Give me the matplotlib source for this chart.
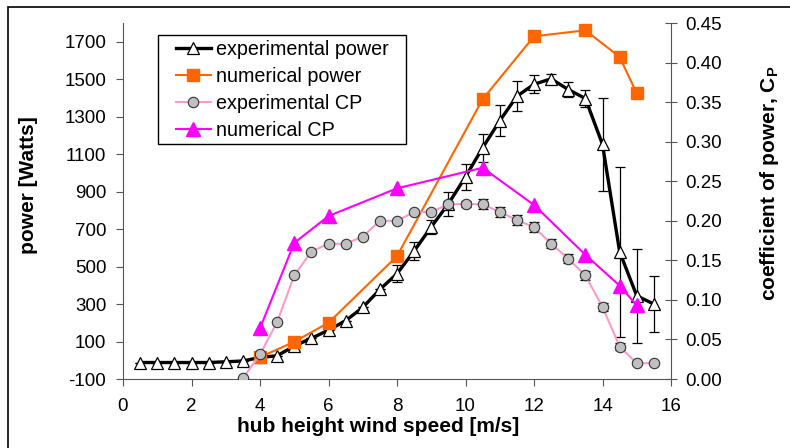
import numpy as np
import matplotlib
matplotlib.use("Agg")
import matplotlib.pyplot as plt
from matplotlib.patches import Rectangle

plt.rcParams['font.family'] = ['Liberation Sans', 'DejaVu Sans']
plt.rcParams['mathtext.fontset'] = 'custom'
plt.rcParams['mathtext.bf'] = 'Liberation Sans:bold'
plt.rcParams['mathtext.rm'] = 'Liberation Sans'
plt.rcParams['mathtext.default'] = 'bf'
plt.rcParams['axes.unicode_minus'] = False

# experimental power (W) with error bars
exp_ws = [0.5, 1, 1.5, 2, 2.5, 3, 3.5, 4, 4.5, 5, 5.5, 6, 6.5, 7, 7.5, 8,
          8.5, 9, 9.5, 10, 10.5, 11, 11.5, 12, 12.5, 13, 13.5, 14, 14.5, 15, 15.5]
exp_power = [-12, -12, -12, -12, -12, -8, -4, 15, 24, 76, 117, 161, 211, 282, 378, 462,
             583, 712, 835, 979, 1134, 1278, 1409, 1473, 1502, 1445, 1397, 1152, 579, 344, 300]
exp_power_err = [0, 0, 0, 0, 0, 0, 0, 0, 0, 0, 0, 0, 0, 0, 0, 45,
                 50, 36, 64, 70, 75, 82, 80, 47, 28, 40, 45, 250, 453, 250, 148]

# numerical power (W)
num_ws = [4, 5, 6, 8, 10.5, 12, 13.5, 14.5, 15]
num_power = [16, 99, 200, 556, 1393, 1729, 1761, 1619, 1424]

# experimental CP
cp_ws = [3.5, 4, 4.5, 5, 5.5, 6, 6.5, 7, 7.5, 8, 8.5, 9, 9.5, 10, 10.5, 11,
         11.5, 12, 12.5, 13, 13.5, 14, 14.5, 15, 15.5]
exp_cp = [0.001, 0.031, 0.072, 0.131, 0.161, 0.171, 0.171, 0.180, 0.200, 0.200, 0.211, 0.211,
          0.221, 0.221, 0.221, 0.211, 0.201, 0.192, 0.171, 0.152, 0.131, 0.091, 0.041, 0.020, 0.020]
exp_cp_err = [0, 0, 0, 0, 0, 0, 0, 0, 0, 0, 0, 0,
              0.004, 0.004, 0.006, 0.006, 0.006, 0.006, 0.006, 0.006, 0.006, 0.005, 0.004, 0, 0]

# numerical CP
num_cp = [0.064, 0.172, 0.206, 0.241, 0.267, 0.220, 0.157, 0.118, 0.093]

fig = plt.figure(figsize=(7.9, 4.48), dpi=100)
ax = fig.add_axes([123/790, 1 - 379/448, 548/790, 356/448])
ax2 = ax.twinx()

# power on the left axis
ax.errorbar(exp_ws, exp_power, yerr=exp_power_err, fmt='none', ecolor='black',
            elinewidth=0.9, capsize=3.5, capthick=0.9, zorder=2)
ax.plot(exp_ws, exp_power, color='black', lw=2.4, marker='^', ms=8,
        mfc='white', mec='black', mew=0.9, label='experimental power', zorder=3)
ax.plot(num_ws, num_power, color='#FF6600', lw=1.5, marker='s', ms=9,
        mfc='#FF6600', mec='#FF6600', label='numerical power', zorder=4)

# CP on the right axis
ax2.errorbar(cp_ws, exp_cp, yerr=exp_cp_err, fmt='none', ecolor='black',
             elinewidth=0.9, capsize=3.5, capthick=0.9, zorder=2)
ax2.plot(cp_ws, exp_cp, color='#FF99CC', lw=1.5, marker='o', ms=7.5,
         mfc='#C0C0C0', mec='#333333', mew=0.8, label='experimental CP', zorder=3)
ax2.plot(num_ws, num_cp, color='#FF00FF', lw=1.5, marker='^', ms=10,
         mfc='#FF00FF', mec='#FF00FF', label='numerical CP', zorder=4)

ax.set_xlim(0, 16)
ax.set_xticks(np.arange(0, 17, 2))
ax.set_ylim(-100, 1800)
ax.set_yticks(np.arange(-100, 1701, 200))
ax2.set_ylim(0, 0.45)
ax2.set_yticks(np.arange(0, 0.451, 0.05))
ax2.set_yticklabels(['%.2f' % v for v in np.arange(0, 0.451, 0.05)])

for a in (ax, ax2):
    a.spines['top'].set_visible(False)
ax.spines['right'].set_visible(False)
ax2.spines['left'].set_visible(False)
ax2.spines['bottom'].set_visible(False)
ax.spines['left'].set_color('#555555')
ax.spines['bottom'].set_color('#555555')
ax2.spines['right'].set_color('#555555')

ax.tick_params(axis='both', direction='out', length=5, color='#555555', labelsize=13.5)
ax.tick_params(axis='y', pad=7)
ax.tick_params(axis='x', pad=9)
ax2.tick_params(axis='y', direction='inout', length=8, color='#555555', labelsize=13.5, pad=6)

ax.set_xlabel('hub height wind speed [m/s]', fontsize=15, fontweight='bold')
ax.set_ylabel('power [Watts]', fontsize=15, fontweight='bold')
ax2.set_ylabel('coefficient of power, C$_P$', fontsize=15, fontweight='bold')
ax.xaxis.set_label_coords(0.466, -0.108)
ax.yaxis.set_label_coords(-0.155, 0.545)
ax2.yaxis.set_label_coords(1.159, 0.55)

# legend box drawn separately so the inner padding can differ left/top
ax2.add_patch(Rectangle((0.0639, 0.660), 0.4525, 0.306, transform=ax2.transAxes,
                        facecolor='white', edgecolor='black', lw=1.0, zorder=5))
h1, l1 = ax.get_legend_handles_labels()
h2, l2 = ax2.get_legend_handles_labels()
leg = ax2.legend(h1 + h2, l1 + l2, loc='upper left', bbox_to_anchor=(0.0967, 0.952),
                 borderaxespad=0, frameon=False, fontsize=14.2,
                 handlelength=1.75, handletextpad=0.3, labelspacing=0.4,
                 borderpad=0)
leg.set_zorder(6)

fig.patches.append(Rectangle((8/790, -0.1), 1.2, 1.1 - 7/448,
                             transform=fig.transFigure, fill=False, edgecolor='black',
                             lw=1.2, clip_on=False))

fig.savefig('out.png', dpi=100)
